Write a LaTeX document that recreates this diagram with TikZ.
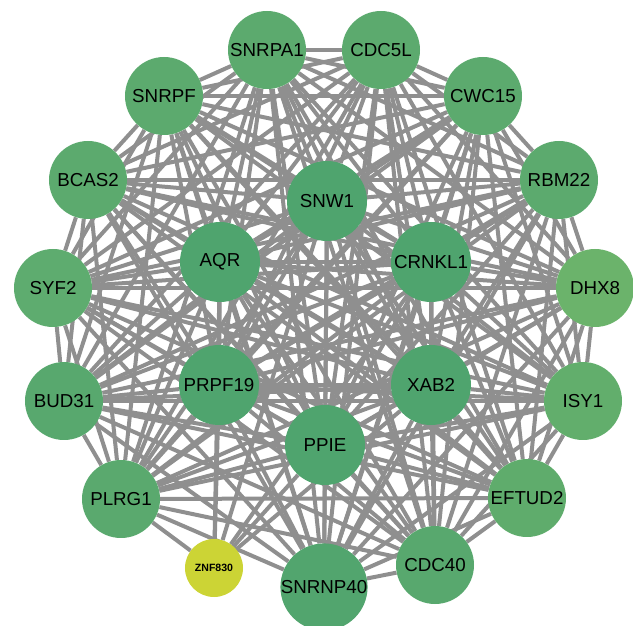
\documentclass[tikz,border=0pt]{standalone}
\usepackage{fontspec}
\setmainfont{Liberation Sans}
\usepackage{xcolor,tikz}
\usetikzlibrary{backgrounds}
\definecolor{edgegray}{HTML}{8F8F8F}
\definecolor{hubgreen}{HTML}{4FA46E}
\definecolor{ringgreen}{HTML}{5CAA6E}
\definecolor{znfyellow}{HTML}{CCD435}

\begin{document}
\begin{tikzpicture}[x=0.03cm,y=-0.03cm,
  gene/.style={circle,fill=ringgreen,inner sep=0pt,minimum size=2.34cm,font=\fontsize{16}{18}\selectfont},
  hub/.style={gene,fill=hubgreen,minimum size=2.4cm},
  small/.style={circle,fill=znfyellow,inner sep=0pt,minimum size=1.74cm,font=\bfseries\fontsize{9}{10}\selectfont},
  link/.style={draw=edgegray,line width=0.12cm}]
\useasboundingbox (0,0) rectangle (633,626);
\node[gene] (snrpa1) at (267,50) {SNRPA1};
\node[gene] (cdc5l) at (381,50) {CDC5L};
\node[gene] (snrpf) at (164,96) {SNRPF};
\node[gene] (cwc15) at (483,96) {CWC15};
\node[gene] (bcas2) at (88,180) {BCAS2};
\node[gene] (rbm22) at (559,180) {RBM22};
\node[hub] (snw1) at (327,201) {SNW1};
\node[hub] (aqr) at (220,262) {AQR};
\node[hub] (crnkl1) at (431,262) {CRNKL1};
\node[gene,fill={rgb,255:red,94;green,172;blue,111}] (syf2) at (53,288) {SYF2};
\node[gene,fill={rgb,255:red,107;green,179;blue,107}] (dhx8) at (595,288) {DHX8};
\node[hub] (prpf19) at (219,385) {PRPF19};
\node[hub] (xab2) at (431,385) {XAB2};
\node[gene,fill={rgb,255:red,88;green,168;blue,110}] (bud31) at (64,401) {BUD31};
\node[gene,fill={rgb,255:red,98;green,174;blue,108}] (isy1) at (583,401) {ISY1};
\node[hub] (ppie) at (325,445) {PPIE};
\node[gene,fill={rgb,255:red,90;green,169;blue,110}] (plrg1) at (121,499) {PLRG1};
\node[gene,fill={rgb,255:red,95;green,172;blue,108}] (eftud2) at (527,498) {EFTUD2};
\node[gene,fill={rgb,255:red,88;green,168;blue,110}] (cdc40) at (435,565) {CDC40};
\node[gene,fill={rgb,255:red,82;green,165;blue,110}] (snrnp40) at (324,587) {SNRNP40};
\node[small] (znf830) at (214,568) {ZNF830};
\begin{scope}[on background layer]
\foreach \a [count=\i] in {snrpa1,cdc5l,snrpf,cwc15,bcas2,rbm22,snw1,aqr,crnkl1,syf2,dhx8,prpf19,xab2,bud31,isy1,ppie,plrg1,eftud2,cdc40,snrnp40}
  \foreach \b [count=\j] in {snrpa1,cdc5l,snrpf,cwc15,bcas2,rbm22,snw1,aqr,crnkl1,syf2,dhx8,prpf19,xab2,bud31,isy1,ppie,plrg1,eftud2,cdc40,snrnp40}
    {\ifnum\i<\j \draw[link] (\a) -- (\b); \fi}
\foreach \b in {plrg1,prpf19,aqr,snw1,ppie,xab2,crnkl1}
  \draw[link] (znf830) -- (\b);
\end{scope}
\end{tikzpicture}
\end{document}
